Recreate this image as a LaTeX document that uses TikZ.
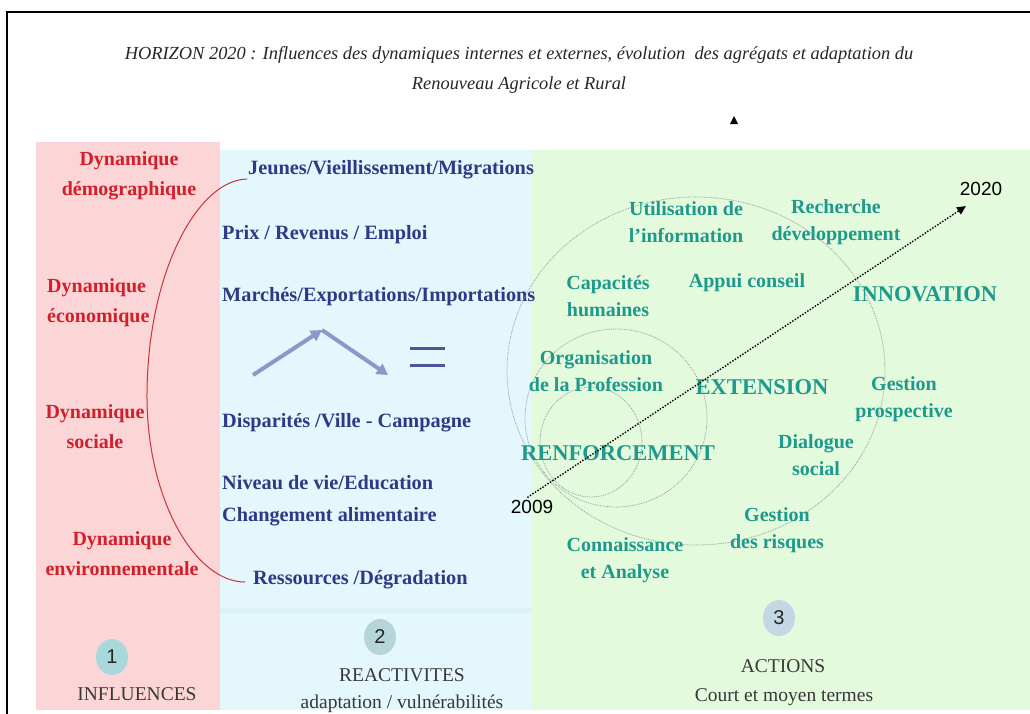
\documentclass[tikz,border=0pt]{standalone}
\usepackage{fontspec}
\setmainfont{Liberation Serif}
\newfontfamily\sansf{Liberation Sans}
\usetikzlibrary{arrows.meta,shapes.geometric}
\definecolor{pinkbg}{HTML}{FCD6D6}
\definecolor{bluebg}{HTML}{E3F7FC}
\definecolor{blueband}{HTML}{DAF2F8}
\definecolor{greenbg}{HTML}{E3FADD}
\definecolor{redtxt}{HTML}{D11F2B}
\definecolor{redline}{HTML}{C8343C}
\definecolor{navytxt}{HTML}{2E3A86}
\definecolor{tealtxt}{HTML}{1E998B}
\definecolor{darktxt}{HTML}{383838}
\definecolor{arrowblue}{HTML}{8C98CC}
\definecolor{eqblue}{HTML}{4A559E}
\definecolor{circgray}{HTML}{9A9A9A}
\definecolor{numa}{HTML}{A8D8DA}
\definecolor{numb}{HTML}{B5D5D8}
\definecolor{numc}{HTML}{C3D8E3}
\begin{document}
\begin{tikzpicture}[x=1pt,y=-1pt,
  redt/.style={text=redtxt, font=\fontsize{20}{30}\selectfont\bfseries, align=center, inner sep=0pt},
  navyt/.style={text=navytxt, font=\fontsize{20.3}{32}\selectfont\bfseries, align=left, inner sep=0pt, anchor=west},
  tealt/.style={text=tealtxt, font=\fontsize{20}{27}\selectfont\bfseries, align=center, inner sep=0pt},
  tealbig/.style={text=tealtxt, font=\fontsize{22.5}{27}\selectfont\bfseries, inner sep=0pt},
  numbadge/.style={ellipse, minimum width=32pt, minimum height=36pt, inner sep=0pt, font=\sansf\fontsize{20}{24}\selectfont, text=black!85},
  bottomt/.style={text=darktxt, font=\fontsize{19.5}{22}\selectfont, inner sep=0pt},
  yeart/.style={font=\sansf\fontsize{19}{22}\selectfont, text=black, inner sep=0pt},
  ring/.style={draw=circgray, line width=0.8pt, densely dotted},
  bluearrow/.style={draw=arrowblue, line width=4pt, -{Triangle[length=11pt,width=12pt]}},
]
\useasboundingbox (0,0) rectangle (1030,713);
\clip (0,0) rectangle (1030,713);
\fill[white] (0,0) rectangle (1030,713);
% frame
\draw[line width=2.5pt] (7,1000) -- (7,12) -- (1100,12);
% panels
\fill[pinkbg] (36,142) rectangle (220,710);
\fill[bluebg] (220,150) rectangle (531,710);
\fill[blueband] (220,608) rectangle (531,614);
\fill[greenbg] (531,150) rectangle (1030,710);
% title
\node[font=\fontsize{18.4}{30}\selectfont\itshape, align=center, inner sep=0pt, text=black!85] (title) at (519,70)
  {HORIZON 2020 : Influences des dynamiques internes et externes, évolution \ des agrégats et adaptation du\\Renouveau Agricole et Rural};
\fill (730,124) -- (738,124) -- (734,116) -- cycle;
% column 1
\node[redt] (d1) at (129,176) {Dynamique\\démographique};
\node[redt, align=left, anchor=west] (d2) at (47,302.5) {Dynamique\\économique};
\node[redt] (d3) at (95,427) {Dynamique\\sociale};
\node[redt] (d4) at (122,554) {Dynamique\\environnementale};
% column 2
\node[navyt] (jeunes) at (248,170) {Jeunes/Vieillissement/Migrations};
\node[navyt] (prix) at (222,235) {Prix / Revenus / Emploi};
\node[navyt] (march) at (222,297) {Marchés/Exportations/Importations};
\node[navyt] (disp) at (222,423) {Disparités /Ville - Campagne};
\node[navyt] (niveau) at (222,501) {Niveau de vie/Education\\Changement alimentaire};
\node[navyt] (ress) at (253,580) {Ressources /Dégradation};
\coordinate (cTop) at (247,179);
\coordinate (cMid) at (147,400);
\coordinate (cBot) at (245,582);
\draw[redline, line width=1pt] (cTop) .. controls (197,180) and (146,275) .. (cMid)
  .. controls (148,500) and (195,582) .. (cBot);
\coordinate (a1) at (253,375);
\coordinate (a2) at (322,330);
\coordinate (a3) at (388,375);
\draw[bluearrow] (a1) -- (a2);
\draw[bluearrow] (a2) -- (a3);
\coordinate (eq1a) at (410,348); \coordinate (eq1b) at (445,348);
\coordinate (eq2a) at (410,365); \coordinate (eq2b) at (445,365);
\draw[eqblue, line width=3pt] (eq1a) -- (eq1b);
\draw[eqblue, line width=3pt] (eq2a) -- (eq2b);
% rings
\draw[ring] (696,371) ellipse [x radius=189, y radius=174];
\draw[ring] (616,418) ellipse [x radius=91, y radius=89];
\draw[ring] (591,442) ellipse [x radius=51, y radius=55];
% column 3 texts
\node[tealt] (util) at (686,222) {Utilisation de\\l’information};
\node[tealt] (rech) at (836,222) {Recherche\\développement};
\node[tealt] (capa) at (608,296) {Capacités\\humaines};
\node[tealt] (appui) at (747,283) {Appui conseil};
\node[tealbig] (innov) at (925,294) {INNOVATION};
\node[tealt] (orga) at (596,371) {Organisation\\de la Profession};
\node[tealbig] (ext) at (762,387) {EXTENSION};
\node[tealt] (gestp) at (904,399) {Gestion\\prospective};
\node[tealbig] (renf) at (618,453) {RENFORCEMENT};
\node[tealt] (dial) at (816,455) {Dialogue\\social};
\node[tealt] (gestr) at (777,530) {Gestion\\des risques};
\node[tealt] (conn) at (625,560) {Connaissance\\et Analyse};
% timeline
\node[yeart] (y2009) at (532,507) {2009};
\node[yeart] (y2020) at (981,189) {2020};
\coordinate (tStart) at (528,497);
\coordinate (tEnd) at (966,206);
\draw[line width=2pt, line cap=round, dash pattern=on 0pt off 3pt, -{Triangle[length=9pt,width=8pt]}] (tStart) -- (tEnd);
% bottom labels
\node[numbadge, fill=numa] (n1) at (112,657) {1};
\node[bottomt] (infl) at (137,694) {INFLUENCES};
\node[numbadge, fill=numb] (n2) at (380,637) {2};
\node[bottomt] (react) at (402,675) {REACTIVITES};
\node[bottomt] (adapt) at (402,704) {adaptation / vulnérabilités};
\node[numbadge, fill=numc] (n3) at (779,618) {3};
\node[bottomt] (act) at (783,666) {ACTIONS};
\node[bottomt] (court) at (784,697) {Court et moyen termes};
\end{tikzpicture}
\end{document}
